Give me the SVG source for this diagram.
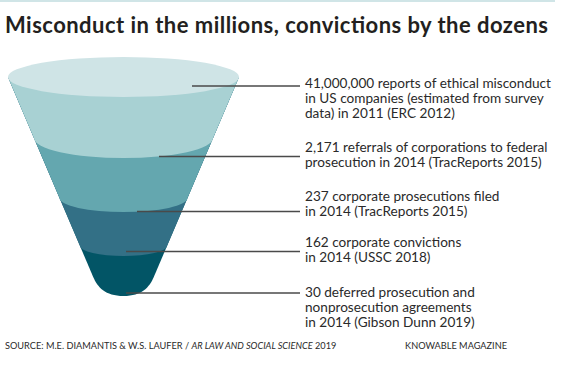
<svg xmlns="http://www.w3.org/2000/svg" width="570" height="369" viewBox="0 0 570 369">
<style>
.t{font-family:Lato,"Liberation Sans",Arial,sans-serif;font-size:13.6px;fill:#2a2a2a}
.title{font-family:Lato,"Liberation Sans",Arial,sans-serif;font-size:22px;font-weight:bold;fill:#231f20}
.f{font-family:Lato,"Liberation Sans",Arial,sans-serif;font-size:9.2px;fill:#2a2a2a}
.ld{stroke:#4a4a4a;stroke-width:1.3;fill:none}
</style>
<rect x="0" y="0" width="555" height="2" fill="#d0e5e7"/>
<text class="title" x="5" y="32.5" textLength="543" lengthAdjust="spacing">Misconduct in the millions, convictions by the dozens</text>
<g id="funnel">
<path id="band4" d="M8,77 L93.2,277 C97.5,287 105,296 123.5,296 C142,296 149.5,287 153.8,277 L239,77 Z" fill="#025566"/>
<path id="band3" d="M8,77 L80,246 A43.5,10 0 0 0 167,246 L239,77 Z" fill="#337086"/>
<path id="band2" d="M8,77 L59.5,198 A64,14 0 0 0 187.5,198 L239,77 Z" fill="#64a7af"/>
<path id="band1" d="M8,77 L34,138 A89.5,20 0 0 0 213,138 L239,77 Z" fill="#a8d1d3"/>
<ellipse id="top" cx="123.5" cy="77" rx="115.5" ry="20" fill="#cfe4e6"/>
</g>
<g id="connectors">
<line class="ld" x1="192" y1="86" x2="300" y2="86"/>
<line class="ld" x1="159" y1="156.5" x2="300" y2="156.5"/>
<line class="ld" x1="137" y1="211.5" x2="300" y2="211.5"/>
<line class="ld" x1="126" y1="251.5" x2="300" y2="251.5"/>
<line class="ld" x1="126" y1="293" x2="300" y2="293"/>
</g>
<g id="label1">
<text class="t" x="305" y="88">41,000,000 reports of ethical misconduct</text>
<text class="t" x="305" y="103">in US companies (estimated from survey</text>
<text class="t" x="305" y="118">data) in 2011 (ERC 2012)</text>
</g>
<g id="label2">
<text class="t" x="305" y="151.5">2,171 referrals of corporations to federal</text>
<text class="t" x="305" y="166.5">prosecution in 2014 (TracReports 2015)</text>
</g>
<g id="label3">
<text class="t" x="305" y="200.5">237 corporate prosecutions filed</text>
<text class="t" x="305" y="215.5">in 2014 (TracReports 2015)</text>
</g>
<g id="label4">
<text class="t" x="305" y="247">162 corporate convictions</text>
<text class="t" x="305" y="262">in 2014 (USSC 2018)</text>
</g>
<g id="label5">
<text class="t" x="305" y="297">30 deferred prosecution and</text>
<text class="t" x="305" y="312">nonprosecution agreements</text>
<text class="t" x="305" y="327">in 2014 (Gibson Dunn 2019)</text>
</g>
<text class="f" x="5" y="349">SOURCE: M.E. DIAMANTIS &amp; W.S. LAUFER / <tspan font-style="italic">AR LAW AND SOCIAL SCIENCE</tspan> 2019</text>
<text class="f" x="507" y="349" text-anchor="end">KNOWABLE MAGAZINE</text>
</svg>
